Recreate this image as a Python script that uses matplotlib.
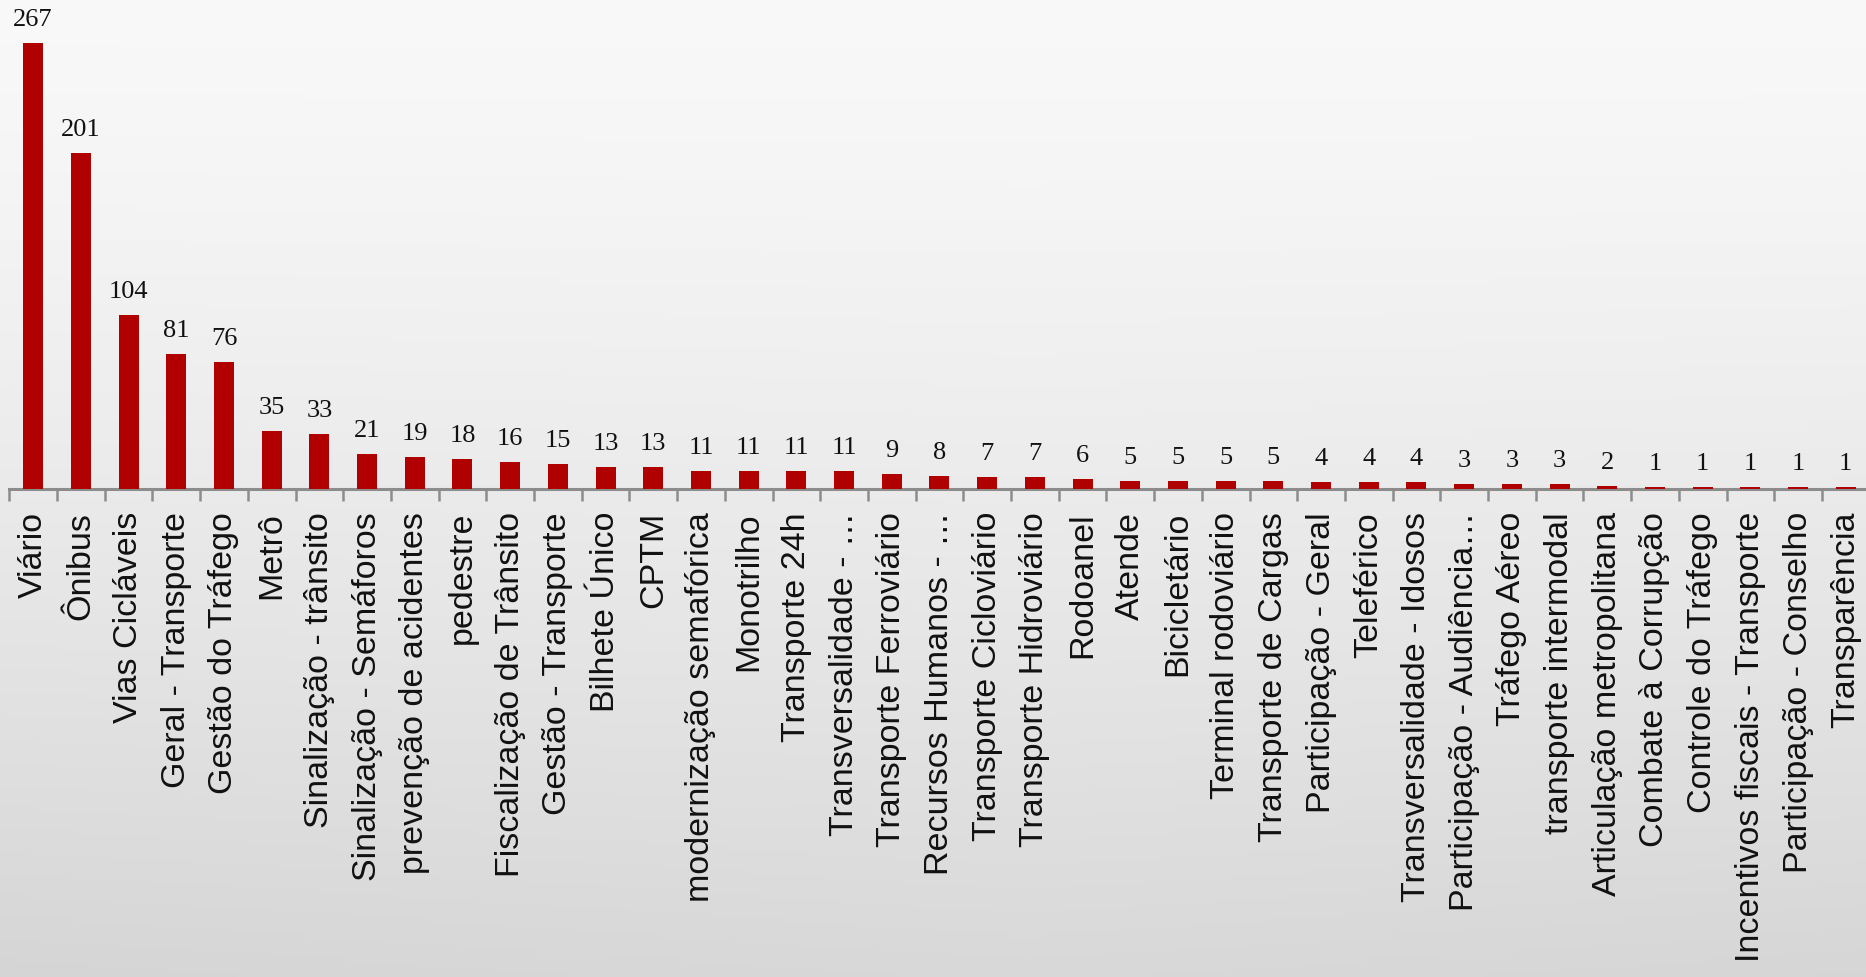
import numpy as np
import matplotlib
matplotlib.use("Agg")
import matplotlib.pyplot as plt

categories = [
    "Viário", "Ônibus", "Vias Cicláveis", "Geral - Transporte", "Gestão do Tráfego",
    "Metrô", "Sinalização - trânsito", "Sinalização - Semáforos", "prevenção de acidentes",
    "pedestre", "Fiscalização de Trânsito", "Gestão - Transporte", "Bilhete Único", "CPTM",
    "modernização semafórica", "Monotrilho", "Transporte 24h", "Transversalidade - …",
    "Transporte Ferroviário", "Recursos Humanos - …", "Transporte Cicloviário",
    "Transporte Hidroviário", "Rodoanel", "Atende", "Bicicletário", "Terminal rodoviário",
    "Transporte de Cargas", "Participação - Geral", "Teleférico", "Transversalidade - Idosos",
    "Participação - Audiência…", "Tráfego Aéreo", "transporte intermodal",
    "Articulação metropolitana", "Combate à Corrupção", "Controle do Tráfego",
    "Incentivos fiscais - Transporte", "Participação - Conselho", "Transparência",
]
values = [267, 201, 104, 81, 76, 35, 33, 21, 19, 18, 16, 15, 13, 13, 11, 11, 11, 11, 9, 8,
          7, 7, 6, 5, 5, 5, 5, 4, 4, 4, 3, 3, 3, 2, 1, 1, 1, 1, 1]

W, H = 1866, 977
fig = plt.figure(figsize=(W / 100, H / 100), dpi=100)

# background gradient (light at top, grey toward bottom)
bg = fig.add_axes([0, 0, 1, 1], zorder=-10)
yy, xx = np.mgrid[0:1:200j, 0:1:400j]
t = np.clip(yy * 0.9 + 0.12 * np.abs(xx - 0.55) * yy, 0, 1)
light, dark = 0.975, 0.83
img = light - (light - dark) * t ** 1.3
bg.imshow(np.dstack([img, img, img]), aspect="auto", extent=[0, 1, 0, 1], origin="upper")
bg.axis("off")

n = len(categories)
left_px = 9.3
cat_px = 47.7
ax_w = n * cat_px
zero_y = 489
px_per_unit = 1.670
ymax = zero_y / px_per_unit
ax = fig.add_axes([left_px / W, 1 - zero_y / H, ax_w / W, zero_y / H])
ax.set_facecolor("none")

x = np.arange(n)
ax.bar(x, values, width=0.42, color="#b00000", zorder=3)

for xi, v in zip(x, values):
    ax.annotate(str(v), (xi, v), xytext=(0, 12.2), textcoords="offset points",
                ha="center", va="baseline", fontsize=19, family="Liberation Serif",
                color="#111111")

ax.set_xlim(-0.5, n - 0.5)
ax.set_ylim(0, ymax)
for s in ["top", "right", "left"]:
    ax.spines[s].set_visible(False)
ax.spines["bottom"].set_color("#8c8c8c")
ax.spines["bottom"].set_linewidth(2.2)
ax.set_yticks([])

ax.set_xticks(x)
ax.set_xticklabels(categories, rotation=90, fontsize=24.5, family="Liberation Sans",
                   color="#111111")
ax.tick_params(axis="x", which="major", length=0, pad=16.5)
ax.set_xticks(np.arange(n + 1) - 0.5, minor=True)
ax.tick_params(axis="x", which="minor", length=8.6, width=1.8, color="#8c8c8c")

fig.savefig("out.png", dpi=100)
